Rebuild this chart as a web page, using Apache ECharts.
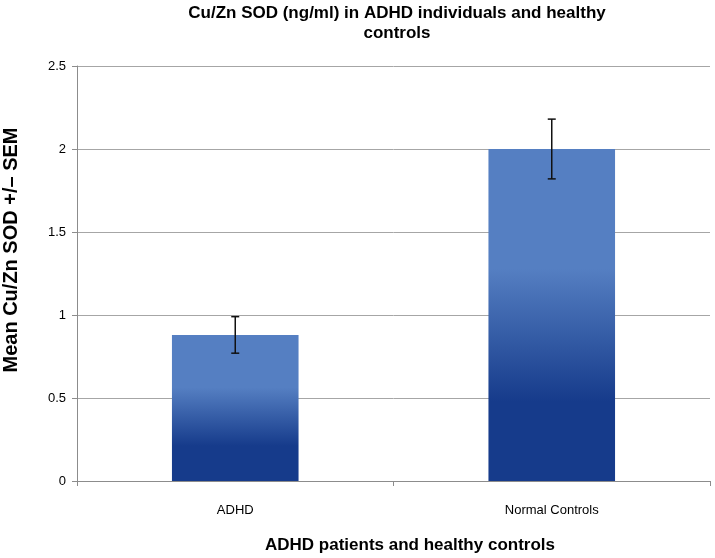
<!DOCTYPE html>
<html>
<head>
<meta charset="utf-8">
<script src="https://cdn.jsdelivr.net/npm/echarts@6/dist/echarts.min.js"></script>
<style>html,body{margin:0;padding:0;background:#fff}#c{width:715px;height:558px}</style>
</head>
<body>
<div id="c"></div>
<script>
const categories = ['ADHD', 'Normal Controls'];
const means = [0.88, 2.0];
const sem = [0.11, 0.18];
const yTicks = [0, 0.5, 1, 1.5, 2, 2.5];

const chart = echarts.init(document.getElementById('c'));
const font = '"Liberation Sans", Arial, sans-serif';
const errData = categories.map((c, i) => [i, means[i] - sem[i], means[i] + sem[i]]);

chart.setOption({
  animation: false,
  title: {
    text: 'Cu/Zn SOD (ng/ml) in ADHD individuals and healthy\ncontrols',
    left: 392, top: -2, textAlign: 'center',
    textStyle: { fontFamily: font, fontSize: 17, fontWeight: 'bold', color: '#000', lineHeight: 20 }
  },
  grid: { left: 77, right: 5, top: 66, bottom: 77 },
  xAxis: {
    type: 'category', data: categories,
    axisLine: { lineStyle: { color: '#8c8c8c', width: 1 } },
    axisTick: { show: true, length: 5, lineStyle: { color: '#8c8c8c' } },
    axisLabel: { fontFamily: font, fontSize: 13, color: '#000', margin: 23 }
  },
  yAxis: {
    type: 'value', min: 0, max: 2.5, interval: 0.5,
    axisLine: { show: true, lineStyle: { color: '#8c8c8c', width: 1 } },
    axisTick: { show: true, length: 5, lineStyle: { color: '#8c8c8c' } },
    axisLabel: { fontFamily: font, fontSize: 13, color: '#000', margin: 11,
      formatter: v => { const t = yTicks.find(x => Math.abs(x - v) < 1e-9); return String(t !== undefined ? t : v); } },
    splitLine: { lineStyle: { color: '#a6a6a6', width: 1 } }
  },
  graphic: [
    { type: 'text', x: 11, y: 250, rotation: Math.PI / 2,
      style: { text: 'Mean Cu/Zn SOD +/– SEM', font: 'bold 20px ' + font, fill: '#000', align: 'center', verticalAlign: 'middle' } },
    { type: 'text', x: 410, y: 545,
      style: { text: 'ADHD patients and healthy controls', font: 'bold 17px ' + font, fill: '#000', align: 'center', verticalAlign: 'middle' } }
  ],
  series: [
    {
      type: 'bar', data: means, barWidth: '40%',
      itemStyle: {
        color: new echarts.graphic.LinearGradient(0, 0, 0, 1, [
          { offset: 0, color: '#557fc2' },
          { offset: 0.36, color: '#557fc2' },
          { offset: 0.76, color: '#163b8b' },
          { offset: 1, color: '#163b8b' }
        ])
      }
    },
    {
      type: 'custom', data: errData, z: 10,
      renderItem: (params, api) => {
        const x = api.value(0);
        const lo = api.coord([x, api.value(1)]);
        const hi = api.coord([x, api.value(2)]);
        const w = 4;
        const st = { stroke: '#111', lineWidth: 1.5 };
        return { type: 'group', children: [
          { type: 'line', shape: { x1: lo[0], y1: lo[1], x2: hi[0], y2: hi[1] }, style: st },
          { type: 'line', shape: { x1: lo[0] - w, y1: lo[1], x2: lo[0] + w, y2: lo[1] }, style: st },
          { type: 'line', shape: { x1: hi[0] - w, y1: hi[1], x2: hi[0] + w, y2: hi[1] }, style: st }
        ] };
      }
    }
  ]
});
</script>
</body>
</html>
